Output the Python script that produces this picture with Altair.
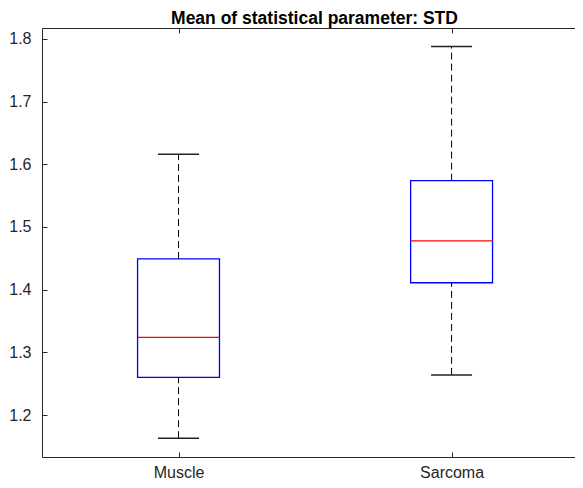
import altair as alt
import pandas as pd

# ---- data ----
groups = ["Muscle", "Sarcoma"]
positions = [1, 2]
lower_whisker = [1.163, 1.264]
q1 = [1.260, 1.411]
median = [1.324, 1.478]
q3 = [1.449, 1.574]
upper_whisker = [1.616, 1.788]
y_ticks = [1.2, 1.3, 1.4, 1.5, 1.6, 1.7, 1.8]

df = pd.DataFrame(dict(group=groups, pos=positions, lo=lower_whisker,
                       q1=q1, med=median, q3=q3, hi=upper_whisker))

# ---- style ----
X_DOMAIN = [0.5, 2.452]
Y_DOMAIN = [1.133, 1.8175]
BOX_HALF = 0.15
CAP_HALF = 0.075
AX = "#262626"
FONT = "Liberation Sans"

xs = alt.Scale(domain=X_DOMAIN, nice=False, zero=False)
ys = alt.Scale(domain=Y_DOMAIN, nice=False, zero=False)
label_expr = " : ".join(
    f"datum.value == {p} ? '{g}'" for p, g in zip(positions, groups)) + " : ''"

def x_axis(**kw):
    base = dict(title=None, grid=False, values=positions, domainColor=AX, tickColor=AX,
                labelColor=AX, labelFont=FONT, labelFontSize=16)
    base.update(kw)
    return alt.Axis(**base)

def y_axis(**kw):
    base = dict(title=None, grid=False, values=y_ticks, domainColor=AX, tickColor=AX,
                labelColor=AX, labelFont=FONT, labelFontSize=16, format=".1f")
    base.update(kw)
    return alt.Axis(**base)

base = alt.Chart(df).transform_calculate(
    bl=f"datum.pos - {BOX_HALF}", br=f"datum.pos + {BOX_HALF}",
    cl=f"datum.pos - {CAP_HALF}", cr=f"datum.pos + {CAP_HALF}")

# box (main bottom + left axes)
box = base.mark_rect(fill="white", stroke="#0000ff", strokeWidth=1.3).encode(
    x=alt.X("bl:Q", scale=xs, axis=x_axis(orient="bottom", ticks=False, tickSize=0,
                                          labelPadding=7, labelExpr=label_expr,
                                          domainWidth=1)),
    x2="br:Q",
    y=alt.Y("q1:Q", scale=ys, axis=y_axis(orient="left", ticks=False, tickSize=0,
                                         labelPadding=11, domainWidth=1)),
    y2="q3:Q")

# median (inward ticks on bottom + left)
med = base.mark_rule(color="#ff0000", strokeWidth=1.3).encode(
    x=alt.X("bl:Q", scale=xs, axis=x_axis(orient="bottom", offset=-5, tickSize=5,
                                          labels=False, domain=False)),
    x2="br:Q",
    y=alt.Y("med:Q", scale=ys, axis=y_axis(orient="left", offset=-5, tickSize=5,
                                          labels=False, domain=False)))

# upper whisker (top frame line)
wu = base.mark_rule(color="black", strokeWidth=1, strokeDash=[7, 4]).encode(
    x=alt.X("pos:Q", scale=xs, axis=x_axis(orient="top", ticks=False, tickSize=0,
                                           labels=False, domain=True)),
    y=alt.Y("q3:Q", scale=ys, axis=None),
    y2="hi:Q")

# lower whisker (top inward ticks)
wl = base.mark_rule(color="black", strokeWidth=1, strokeDash=[7, 4]).encode(
    x=alt.X("pos:Q", scale=xs, axis=x_axis(orient="top", offset=-5, tickSize=5,
                                           labels=False, domain=False)),
    y=alt.Y("lo:Q", scale=ys, axis=None),
    y2="q1:Q")

cap_hi = base.mark_rule(color="#222222", strokeWidth=1.5).encode(
    x=alt.X("cl:Q", scale=xs, axis=None), x2="cr:Q",
    y=alt.Y("hi:Q", scale=ys, axis=None))

cap_lo = base.mark_rule(color="#222222", strokeWidth=1.5).encode(
    x=alt.X("cl:Q", scale=xs, axis=None), x2="cr:Q",
    y=alt.Y("lo:Q", scale=ys, axis=None))

chart = alt.layer(box, med, wu, wl, cap_hi, cap_lo).resolve_axis(
    x="independent", y="independent"
).properties(
    width=533, height=429,
    title=alt.TitleParams("Mean of statistical parameter: STD", font=FONT, fontSize=17.5,
                          fontWeight="bold", color="black", offset=3, dx=6, dy=3),
    autosize=alt.AutoSizeParams(type="none"),
    padding={"left": 34, "top": 20, "right": 0, "bottom": 23},
).configure_view(stroke=None).configure(background="white")

chart.save("out.html", embed_options={"renderer": "svg", "actions": False})
